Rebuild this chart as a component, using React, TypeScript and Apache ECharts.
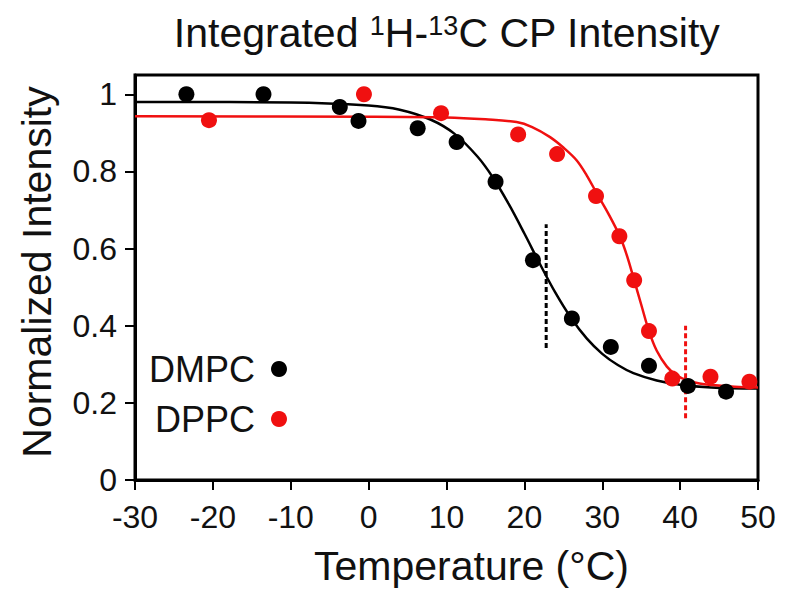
import React, { useEffect, useRef } from "react";
import * as echarts from "echarts";

const FONT = '"Liberation Sans", Arial, Helvetica, sans-serif';
const RED = "#f01010";
const BLACK = "#000000";

// Measured points
const dmpcTemp = [-23.4, -13.5, -3.7, -1.3, 6.3, 11.3, 16.3, 21.1, 26.1, 31.1, 36.0, 41.0, 45.9];
const dmpcInt = [1.0, 1.0, 0.967, 0.931, 0.912, 0.876, 0.773, 0.57, 0.419, 0.345, 0.296, 0.244, 0.229];

const dppcTemp = [-20.5, -0.6, 9.3, 19.2, 24.2, 29.2, 32.2, 34.1, 36.0, 39.0, 43.9, 48.9];
const dppcInt = [0.933, 1.0, 0.951, 0.896, 0.845, 0.736, 0.632, 0.518, 0.386, 0.263, 0.268, 0.255];

// Fitted curves
const dmpcFitTemp = [-30, -10, 0, 4, 8, 11, 14, 16, 18, 20, 22, 24, 26, 28, 30, 32, 34, 37, 40, 44, 50];
const dmpcFitInt = [0.98, 0.979, 0.971, 0.96, 0.934, 0.898, 0.838, 0.783, 0.715, 0.639, 0.56, 0.485, 0.42, 0.367, 0.327, 0.298, 0.277, 0.258, 0.247, 0.24, 0.237];

const dppcFitTemp = [-30, 0, 10, 15, 19, 21, 23.3, 25, 26.7, 28, 29.3, 30.8, 32.3, 33.2, 34.1, 35, 36, 37, 38.3, 39.5, 40.8, 42.5, 44.2, 47, 50];
const dppcFitInt = [0.943, 0.942, 0.94, 0.935, 0.928, 0.915, 0.889, 0.862, 0.829, 0.79, 0.743, 0.69, 0.63, 0.58, 0.518, 0.455, 0.386, 0.335, 0.294, 0.272, 0.259, 0.25, 0.246, 0.242, 0.24];

// Transition temperature markers
const dmpcTmTemp = [22.8, 22.8];
const dmpcTmInt = [0.342, 0.663];
const dppcTmTemp = [40.7, 40.7];
const dppcTmInt = [0.16, 0.4];

// Axes
const xTicks = [-30, -20, -10, 0, 10, 20, 30, 40, 50];
const yTicks = [0, 0.2, 0.4, 0.6, 0.8, 1];

const zip = (a: number[], b: number[]) => a.map((v, i) => [v, b[i]]);

export default function App() {
  const ref = useRef<HTMLDivElement>(null);
  useEffect(() => {
    if (!ref.current) return;
    const chart = echarts.init(ref.current, undefined, { renderer: "svg" });
    const legendText = { fontSize: 36, color: "#111", fontFamily: FONT, padding: [0, 11, 0, 0] };
    const option: any = {
      animation: false,
      backgroundColor: "#ffffff",
      grid: {
        left: 135,
        right: 42,
        top: 75,
        bottom: 127,
        show: true,
        borderColor: "#000",
        borderWidth: 3,
        backgroundColor: "transparent",
      },
      xAxis: {
        type: "value",
        min: xTicks[0],
        max: xTicks[xTicks.length - 1],
        interval: 10,
        axisLine: { show: true, onZero: false, lineStyle: { color: "#000", width: 3 } },
        axisTick: { show: true, inside: false, length: 10, lineStyle: { color: "#000", width: 2 } },
        axisLabel: { margin: 21, fontSize: 32, color: "#111", fontFamily: FONT },
        splitLine: { show: false },
      },
      yAxis: {
        type: "value",
        min: 0,
        max: 1.05,
        axisLine: { show: true, onZero: false, lineStyle: { color: "#000", width: 3 } },
        axisTick: {
          show: true,
          inside: false,
          length: 10,
          customValues: yTicks,
          lineStyle: { color: "#000", width: 2 },
        },
        axisLabel: {
          margin: 18,
          fontSize: 32,
          color: "#111",
          fontFamily: FONT,
          customValues: yTicks,
          formatter: (v: number) => String(Math.round(v * 10) / 10),
        },
        splitLine: { show: false },
      },
      legend: [
        {
          data: ["DMPC"],
          right: 513,
          top: 351,
          padding: 0,
          align: "right",
          icon: "circle",
          itemWidth: 16,
          itemHeight: 16,
          textStyle: legendText,
        },
        {
          data: ["DPPC"],
          right: 513,
          top: 401,
          padding: 0,
          align: "right",
          icon: "circle",
          itemWidth: 16,
          itemHeight: 16,
          textStyle: legendText,
        },
      ],
      series: [
        {
          name: "DMPC fit",
          type: "line",
          data: zip(dmpcFitTemp, dmpcFitInt),
          showSymbol: false,
          smooth: 0.35,
          lineStyle: { color: BLACK, width: 2.5 },
          z: 2,
        },
        {
          name: "DPPC fit",
          type: "line",
          data: zip(dppcFitTemp, dppcFitInt),
          showSymbol: false,
          smooth: 0.35,
          lineStyle: { color: RED, width: 2.5 },
          z: 2,
        },
        {
          name: "DMPC Tm",
          type: "line",
          data: zip(dmpcTmTemp, dmpcTmInt),
          showSymbol: false,
          lineStyle: { color: BLACK, width: 3, type: [5, 3] },
          z: 2,
        },
        {
          name: "DPPC Tm",
          type: "line",
          data: zip(dppcTmTemp, dppcTmInt),
          showSymbol: false,
          lineStyle: { color: RED, width: 3, type: [5, 3] },
          z: 2,
        },
        {
          name: "DPPC",
          type: "scatter",
          data: zip(dppcTemp, dppcInt),
          symbol: "circle",
          symbolSize: 16,
          itemStyle: { color: RED, opacity: 1 },
          z: 3,
        },
        {
          name: "DMPC",
          type: "scatter",
          data: zip(dmpcTemp, dmpcInt),
          symbol: "circle",
          symbolSize: 16,
          itemStyle: { color: BLACK, opacity: 1 },
          z: 4,
        },
      ],
      graphic: [
        {
          type: "text",
          x: 447,
          y: 33,
          style: {
            text: "Integrated {sup|1}H-{sup|13}C CP Intensity",
            fontSize: 41,
            fontFamily: FONT,
            fill: "#111",
            align: "center",
            verticalAlign: "middle",
            textAlign: "center",
            textVerticalAlign: "middle",
            rich: {
              sup: { fontSize: 27, fontFamily: FONT, fill: "#111", verticalAlign: "top", lineHeight: 30 },
            },
          },
        },
        {
          type: "text",
          x: 471.5,
          y: 566,
          style: {
            text: "Temperature (°C)",
            fontSize: 41,
            fontFamily: FONT,
            fill: "#111",
            align: "center",
            verticalAlign: "middle",
            textAlign: "center",
            textVerticalAlign: "middle",
          },
        },
        {
          type: "text",
          x: 37,
          y: 272,
          rotation: Math.PI / 2,
          style: {
            text: "Normalized Intensity",
            fontSize: 41,
            fontFamily: FONT,
            fill: "#111",
            align: "center",
            verticalAlign: "middle",
            textAlign: "center",
            textVerticalAlign: "middle",
          },
        },
      ],
    };
    chart.setOption(option);
    return () => chart.dispose();
  }, []);
  return (
    <div
      ref={ref}
      style={{ position: "fixed", left: 0, top: 0, width: 800, height: 607, background: "#fff" }}
    />
  );
}
